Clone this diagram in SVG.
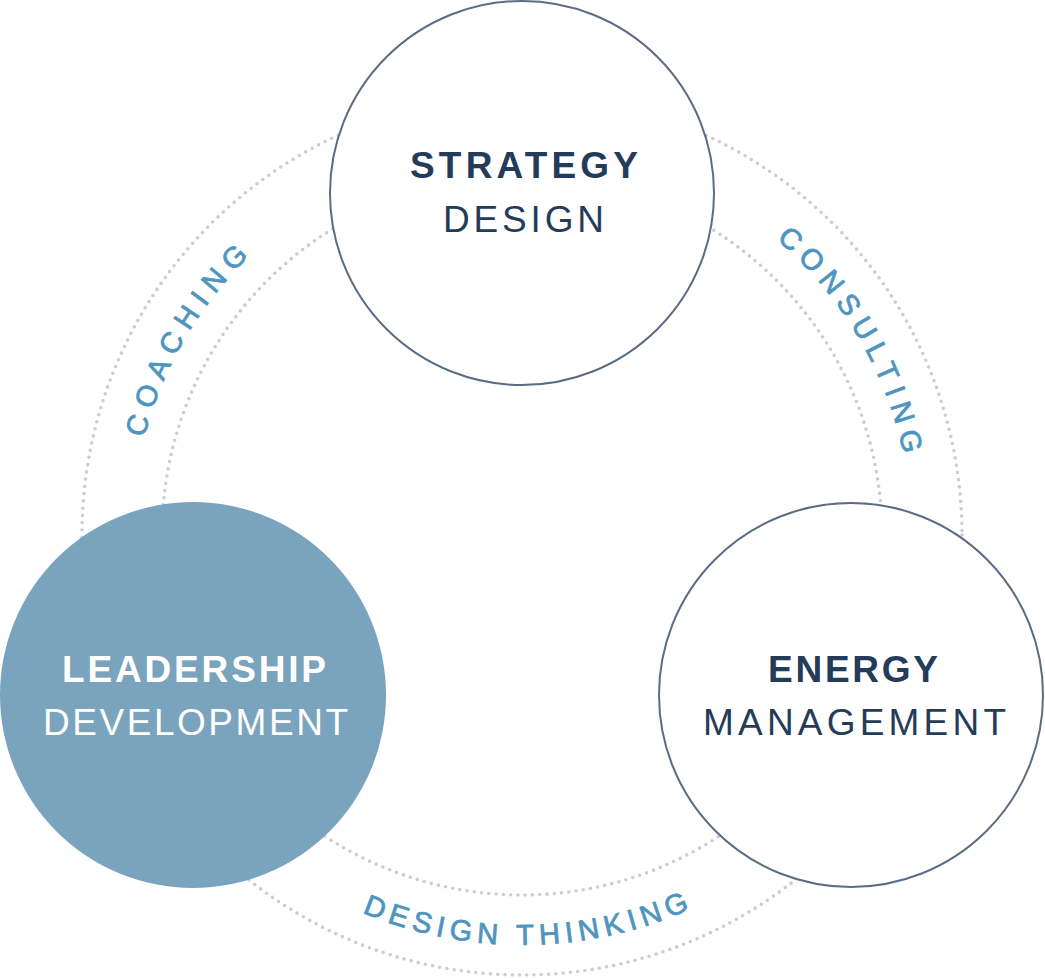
<svg xmlns="http://www.w3.org/2000/svg" width="1045" height="978" viewBox="0 0 1045 978">
<defs>
<style>
.ring{fill:none;stroke:#c8ced8;stroke-width:3.6;stroke-linecap:round;stroke-dasharray:0 7.3}
.node{fill:#ffffff;stroke:#5c6c84;stroke-width:2}
.fill{fill:#7aa3bd}
.t{font-family:"Liberation Sans","Noto Sans",Arial,sans-serif;font-size:37px;fill:#243c5a}
.b{font-weight:700}
.w{fill:#ffffff}
.lbl{font-family:"Liberation Sans","Noto Sans",Arial,sans-serif;font-size:29px;fill:#4f95bf;stroke:#4f95bf;stroke-width:0.8}
</style>
<path id="pCoach" d="M154.14,664.54 A390,390 0 0 1 458.30,150.24"/>
<path id="pCons" d="M589.05,150.81 A390,390 0 0 1 888.71,667.75"/>
<path id="pDT" d="M212.57,803.98 A410,410 0 0 0 840.63,793.02"/>
</defs>
<rect width="1045" height="978" fill="#ffffff"/>
<g id="connectors">
<circle class="ring" cx="522" cy="535" r="360"/>
<circle class="ring" cx="522" cy="535" r="440"/>
</g>
<g id="node-strategy">
<circle class="node" cx="522" cy="193" r="192"/>
<text class="t b" x="410" y="178" textLength="228" lengthAdjust="spacing">STRATEGY</text>
<text class="t" x="443" y="232" textLength="161" lengthAdjust="spacing">DESIGN</text>
</g>
<g id="node-leadership">
<circle class="fill" cx="193" cy="695" r="193"/>
<text class="t b w" x="62" y="682" textLength="264" lengthAdjust="spacing">LEADERSHIP</text>
<text class="t w" x="43" y="735" textLength="305" lengthAdjust="spacing">DEVELOPMENT</text>
</g>
<g id="node-energy">
<circle class="node" cx="851" cy="695" r="192"/>
<text class="t b" x="768" y="682" textLength="170" lengthAdjust="spacing">ENERGY</text>
<text class="t" x="703" y="735" textLength="303" lengthAdjust="spacing">MANAGEMENT</text>
</g>
<g id="labels">
<text class="lbl" letter-spacing="8"><textPath href="#pCoach" startOffset="50%" text-anchor="middle">COACHING</textPath></text>
<text class="lbl" letter-spacing="7.4"><textPath href="#pCons" startOffset="50%" text-anchor="middle">CONSULTING</textPath></text>
<text class="lbl" letter-spacing="5.7"><textPath href="#pDT" startOffset="50%" text-anchor="middle">DESIGN THINKING</textPath></text>
</g>
</svg>
